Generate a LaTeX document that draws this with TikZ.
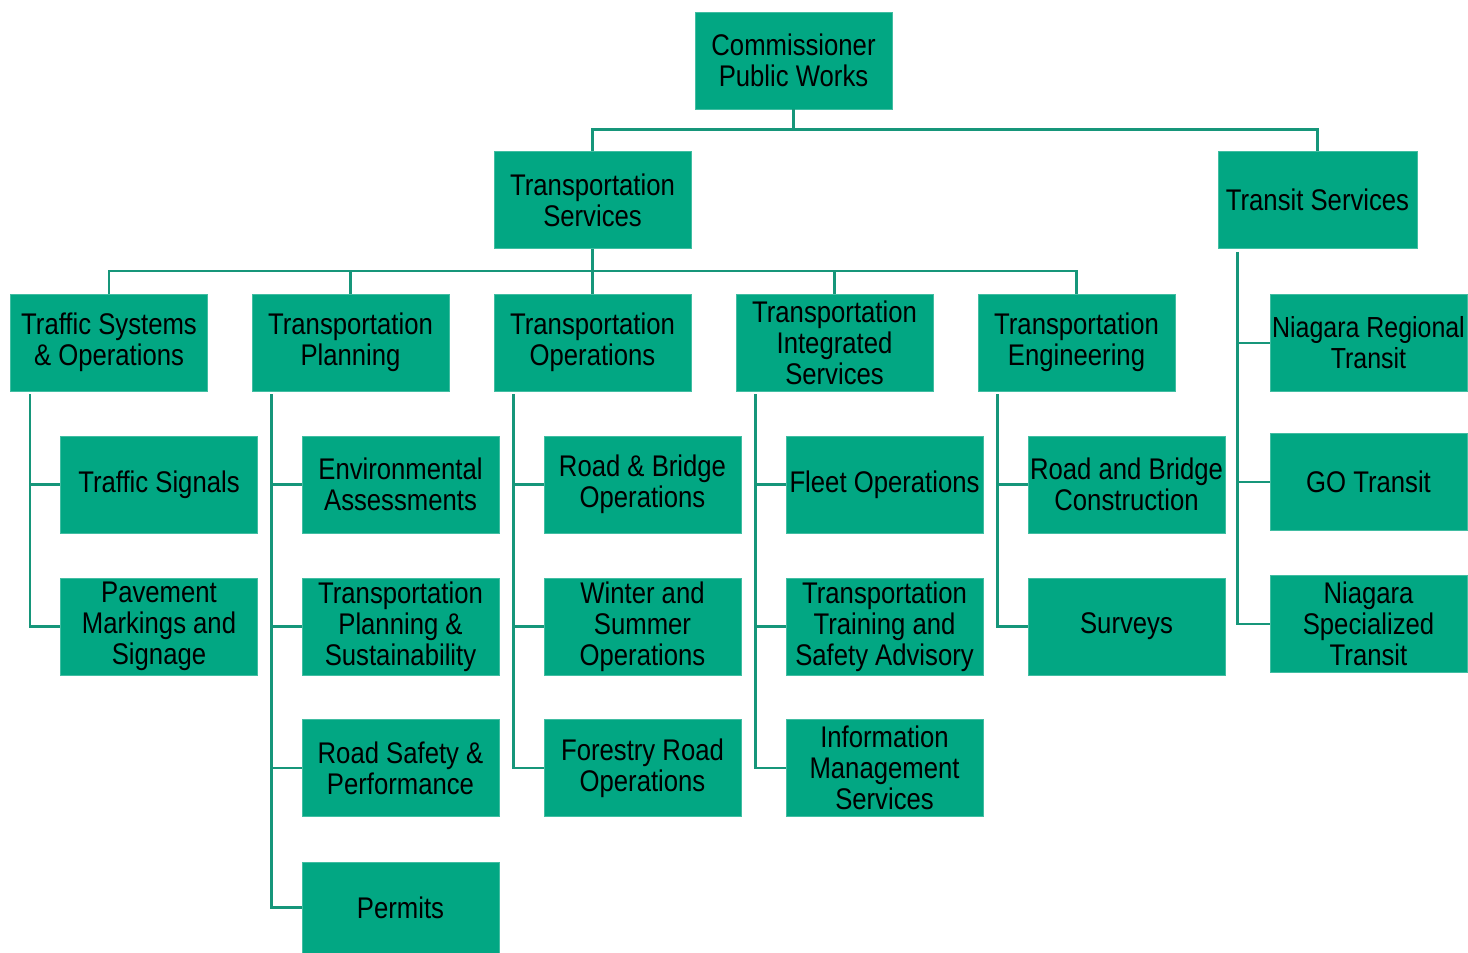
\documentclass[tikz,border=0pt]{standalone}
\usepackage{fontspec}
\setmainfont[FakeStretch=0.86]{Liberation Sans}
\definecolor{boxgreen}{RGB}{2,167,131}
\definecolor{linegreen}{RGB}{22,150,122}
\tikzset{
  unit/.style={fill=boxgreen, draw=boxgreen!75!white, line width=0.5pt,
    minimum width=3.94cm, minimum height=1.94cm, inner sep=0.5pt,
    align=center, text=black, font=\fontsize{17}{17.6}\selectfont},
  link/.style={draw=linegreen, line width=1.4pt}
}
\begin{document}
\begin{tikzpicture}
\useasboundingbox[fill=white] (0,0) rectangle (29.36,-19.06);

% top levels
\node[unit] (com) at (15.87,-1.21) {Commissioner\\Public Works};
\node[unit] (tsv) at (11.85,-4.00) {Transportation\\Services};
\node[unit, minimum width=3.98cm] (trs) at (26.35,-4.00) {Transit Services};

% divisions under Transportation Services
\node[unit] (tso) at (2.18,-6.85)  {Traffic Systems\\\& Operations};
\node[unit] (tpl) at (7.01,-6.85)  {Transportation\\Planning};
\node[unit] (top) at (11.85,-6.85) {Transportation\\Operations};
\node[unit] (tis) at (16.69,-6.85) {Transportation\\Integrated\\Services};
\node[unit] (ten) at (21.53,-6.85) {Transportation\\Engineering};

% Traffic Systems & Operations
\node[unit] (sig) at (3.18,-9.69)  {Traffic Signals};
\node[unit] (pav) at (3.18,-12.53) {Pavement\\Markings and\\Signage};

% Transportation Planning
\node[unit] (env) at (8.01,-9.69)  {Environmental\\Assessments};
\node[unit] (tps) at (8.01,-12.53) {Transportation\\Planning \&\\Sustainability};
\node[unit] (rsp) at (8.01,-15.36) {Road Safety \&\\Performance};
\node[unit, minimum height=1.82cm] (per) at (8.01,-18.15) {Permits};

% Transportation Operations
\node[unit] (rbo) at (12.85,-9.69)  {Road \& Bridge\\Operations};
\node[unit] (wso) at (12.85,-12.53) {Winter and\\Summer\\Operations};
\node[unit] (fro) at (12.85,-15.36) {Forestry Road\\Operations};

% Transportation Integrated Services
\node[unit] (flt) at (17.69,-9.69)  {Fleet Operations};
\node[unit] (tts) at (17.69,-12.53) {Transportation\\Training and\\Safety Advisory};
\node[unit] (ims) at (17.69,-15.36) {Information\\Management\\Services};

% Transportation Engineering
\node[unit] (rbc) at (22.53,-9.69)  {Road and Bridge\\Construction};
\node[unit] (srv) at (22.53,-12.53) {Surveys};

% Transit Services
\node[unit, font=\fontsize{16.5}{17.6}\selectfont] (nrt) at (27.37,-6.86) {Niagara Regional\\Transit};
\node[unit] (got) at (27.37,-9.64)  {GO Transit};
\node[unit] (nst) at (27.37,-12.48) {Niagara\\Specialized\\Transit};

% bus below the Commissioner
\coordinate (bus1) at ([yshift=-0.40cm]com.south);
\draw[link] (com.south) -- (bus1);
\draw[link] (tsv.north) |- (bus1);
\draw[link] (trs.north) |- (bus1);

% bus below Transportation Services
\coordinate (bus2) at ([yshift=-0.44cm]tsv.south);
\draw[link] (tsv.south) -- (bus2);
\foreach \d in {tso,tpl,top,tis,ten}
  \draw[link] (\d.north) |- (bus2);

% spines down the left side of each division
\foreach \p/\last/\kids in {tso/pav/{sig},
                           tpl/per/{env,tps,rsp},
                           top/fro/{rbo,wso},
                           tis/ims/{flt,tts},
                           ten/srv/{rbc},
                           trs/nst/{nrt,got}} {
  \coordinate (sp-\p) at ([xshift=0.4cm,yshift=-0.06cm]\p.south west);
  \draw[link] (sp-\p) |- (\last.west);
  \foreach \k in \kids
    \draw[link] (sp-\p |- \k.west) -- (\k.west);
}
\end{tikzpicture}
\end{document}
